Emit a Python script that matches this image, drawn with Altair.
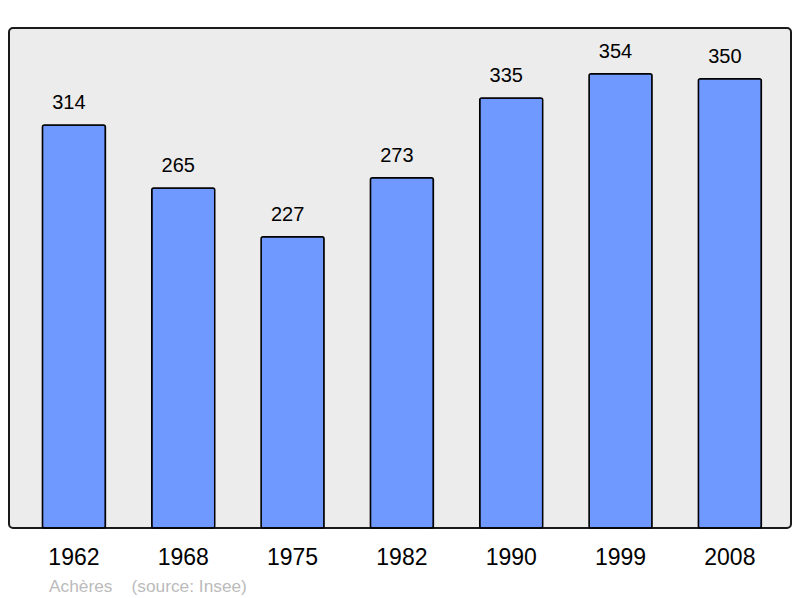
import altair as alt
import pandas as pd

years = ["1962", "1968", "1975", "1982", "1990", "1999", "2008"]
population = [314, 265, 227, 273, 335, 354, 350]

df = pd.DataFrame({"year": years, "pop": population})

x = alt.X("year:N", sort=years,
          scale=alt.Scale(paddingInner=0.424, paddingOuter=0.2885, align=0.53),
          axis=alt.Axis(title=None, ticks=False, domain=False, labelAngle=0,
                        labelFontSize=23, labelFont="Liberation Sans",
                        labelColor="#000000", labelPadding=18))
y = alt.Y("pop:Q", scale=alt.Scale(domain=[0, 389.6], nice=False, zero=True),
          axis=None)

bars = alt.Chart(df).mark_bar(
    color="#7099ff", stroke="#000000", strokeWidth=1.5, cornerRadius=2
).encode(x=x, y=y)

labels = alt.Chart(df).mark_text(
    baseline="alphabetic", dx=-5, dy=-16, fontSize=20, font="Liberation Sans", color="#000000"
).encode(x=x, y=y, text="pop:Q")

chart = (bars + labels).properties(
    width=782, height=500,
    autosize=alt.AutoSizeParams(type="none"),
    padding={"left": 1, "top": 20, "right": 1, "bottom": 70},
    title=alt.TitleParams(
        "Achères\u00a0\u00a0\u00a0\u00a0(source: Insee)",
        orient="bottom", anchor="start", dx=40, offset=9,
        fontSize=17.3, font="Liberation Sans", fontWeight="normal", color="#bbbbbb"
    ),
).configure_view(
    fill="#ececec", stroke="#1a1a1a", strokeWidth=2, cornerRadius=4
)

chart.save("out.html", embed_options={"renderer": "svg", "actions": False})
